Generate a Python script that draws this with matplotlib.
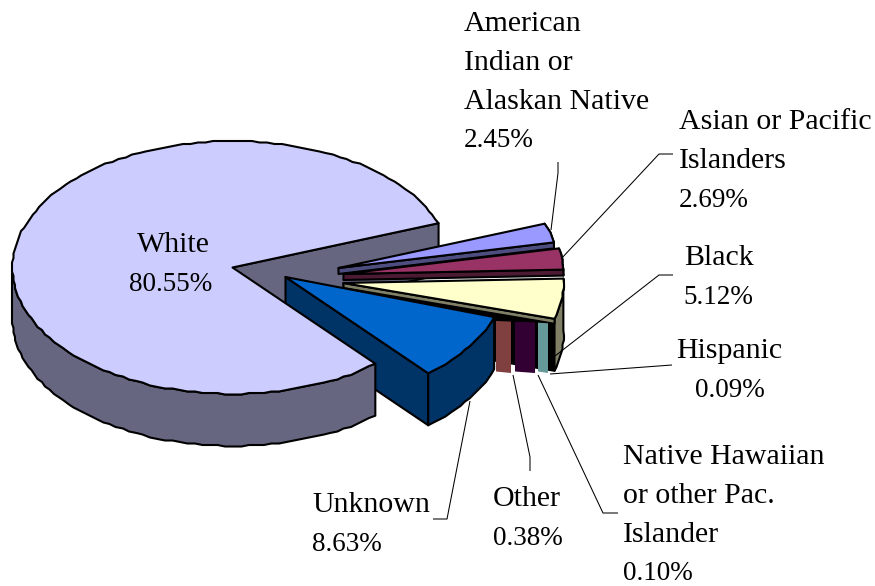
import numpy as np
import matplotlib
matplotlib.use("Agg")
import matplotlib.pyplot as plt
from matplotlib.patches import Polygon

# ---- data ----
categories = ["White", "American Indian or Alaskan Native", "Asian or Pacific Islanders",
              "Black", "Hispanic", "Native Hawaiian or other Pac. Islander", "Other", "Unknown"]
shares = [80.55, 2.45, 2.69, 5.12, 0.09, 0.10, 0.38, 8.63]
top_colors = ["#CCCCFF", "#9999FF", "#993366", "#FFFFCC", "#669999", "#330033", "#804040", "#0066CC"]
side_colors = ["#666680", "#4D4D80", "#4D1A33", "#808066", "#669999", "#330033", "#804040", "#003366"]
value_labels = ["80.55%", "2.45%", "2.69%", "5.12%", "0.09%", "0.10%", "0.38%", "8.63%"]
name_lines = [["White"], ["American", "Indian or", "Alaskan Native"], ["Asian or Pacific", "Islanders"],
              ["Black"], ["Hispanic"], ["Native Hawaiian", "or other Pac.", "Islander"], ["Other"], ["Unknown"]]

# ---- layout (pixel canvas) ----
W, H = 875, 586
RX, RY, DEPTH = 220, 126.5, 52
START = 20.5
apex = {0: (232.5, 267.5), 1: (338.5, 268), 2: (343.5, 274), 3: (343.5, 283), 7: (285.5, 277)}
strip_h = {1: 6, 2: 6, 3: 5}
tiny_strips = {6: (496, 511), 5: (515, 535), 4: (538, 548)}
label_pos = {0: (137, 129, 252), 1: (464, 464, 31), 2: (679, 679, 129), 3: (684, 683, 265),
             4: (676, 695, 358), 5: (623, 623, 464), 6: (493, 493, 506), 7: (312, 312, 512)}
leaders = [[(558, 162), (558, 173), (551, 230)],
           [(673, 154), (659, 154), (561, 259)],
           [(673, 275), (659, 275), (555, 356)],
           [(672, 365), (550, 374)],
           [(618, 513), (603, 513), (538, 375)],
           [(530, 471), (530, 457), (513, 375)],
           [(433, 519), (447, 519), (470, 401)]]

fig = plt.figure(figsize=(W / 100, H / 100), dpi=100)
ax = fig.add_axes([0, 0, 1, 1])
ax.set_xlim(0, W)
ax.set_ylim(H, 0)
ax.axis("off")
plt.rcParams["font.family"] = ["Liberation Serif"]
LW = 1.5


def rim(c, t0, t1, step=2.0, snap=1.5):
    """Ellipse arc between two angles, with the faceted outline of the source rendering."""
    n = max(3, int(abs(t1 - t0) / step) + 1)
    t = np.radians(np.linspace(t0, t1, n))
    x = c[0] + RX * np.cos(t)
    y = c[1] - RY * np.sin(t)
    sx, sy = np.round(x / snap) * snap, np.round(y / snap) * snap
    sx[0], sy[0], sx[-1], sy[-1] = x[0], y[0], x[-1], y[-1]
    return np.column_stack([sx, sy])


def poly(pts, fc, z):
    ax.add_patch(Polygon(pts, closed=True, fc=fc, ec="black", lw=LW, joinstyle="round", zorder=z))


def arc_end(c, t):
    r = np.radians(t)
    return np.array([c[0] + RX * np.cos(r), c[1] - RY * np.sin(r)])


# angles: White runs counter-clockwise from START, the rest clockwise from START
spans = np.array(shares) * 3.6
bounds = {}
a = START
for i in range(1, len(shares)):
    bounds[i] = (a, a - spans[i])
    a -= spans[i]
bounds[0] = (START, START + spans[0])

down = np.array([0, DEPTH])

# White: cut face sits behind everything
c = np.array(apex[0])
e = arc_end(c, START)
poly([c, e, e + down, c + down], side_colors[0], 1)

# Slices, far to near
z = 2
for i in (1, 2, 3):
    c = np.array(apex[i])
    t0, t1 = bounds[i]
    arc = rim(c, t0, t1)
    e = arc[-1]
    if i == 3:
        poly([c, e, e + down, c + down], "black", z)
        poly(np.vstack([arc, (arc + down)[::-1]]), side_colors[i], z + 0.1)
    s = np.array([0, strip_h[i]])
    poly([c, e, e + s, c + s], side_colors[i], z + 0.2)
    if i != 3:
        poly(np.vstack([arc, (arc + s)[::-1]]), side_colors[i], z + 0.1)
    poly(np.vstack([c, arc]), top_colors[i], z + 0.3)
    z += 1

# Three very thin slices: only their outer faces show
for i, (x0, x1) in tiny_strips.items():
    top = 321 + (x0 - 496) * 0.04
    ax.add_patch(Polygon([(x0, top), (x1, top + 0.6), (x1, 373), (x0, 371.5)], closed=True,
                         fc=top_colors[i], ec="none", zorder=z))
z += 1

# Unknown
c = np.array(apex[7])
t0, t1 = bounds[7]
arc = rim(c, t0, t1)
e = arc[-1]
poly([c, e, e + down, c + down], side_colors[7], z)
poly(np.vstack([arc, (arc + down)[::-1]]), side_colors[7], z + 0.1)
poly(np.vstack([c, arc]), top_colors[7], z + 0.2)
z += 1

# White in front
c = np.array(apex[0])
t0, t1 = bounds[0]
arc = rim(c, t0, t1)
n = len(arc)
front = arc[np.linspace(t0, t1, n) >= 180]
poly(np.vstack([front, (front + down)[::-1]]), side_colors[0], z)
poly(np.vstack([c, arc]), top_colors[0], z + 0.1)
z += 1

# Leaders
for pts in leaders:
    p = np.array(pts)
    ax.plot(p[:, 0], p[:, 1], color="black", lw=0.75, zorder=z, solid_capstyle="butt")

# Labels
LINE = 38.8
for i, (x_name, x_val, base) in label_pos.items():
    y = base
    for line in name_lines[i]:
        ax.text(x_name, y, line, fontsize=21.5, color="black", ha="left", va="baseline", zorder=z + 1,
                family="Liberation Serif")
        y += LINE
    ax.text(x_val, y, value_labels[i], fontsize=19.5, color="black", ha="left", va="baseline", zorder=z + 1,
            family="Liberation Serif")

fig.savefig("out.png", dpi=100)
